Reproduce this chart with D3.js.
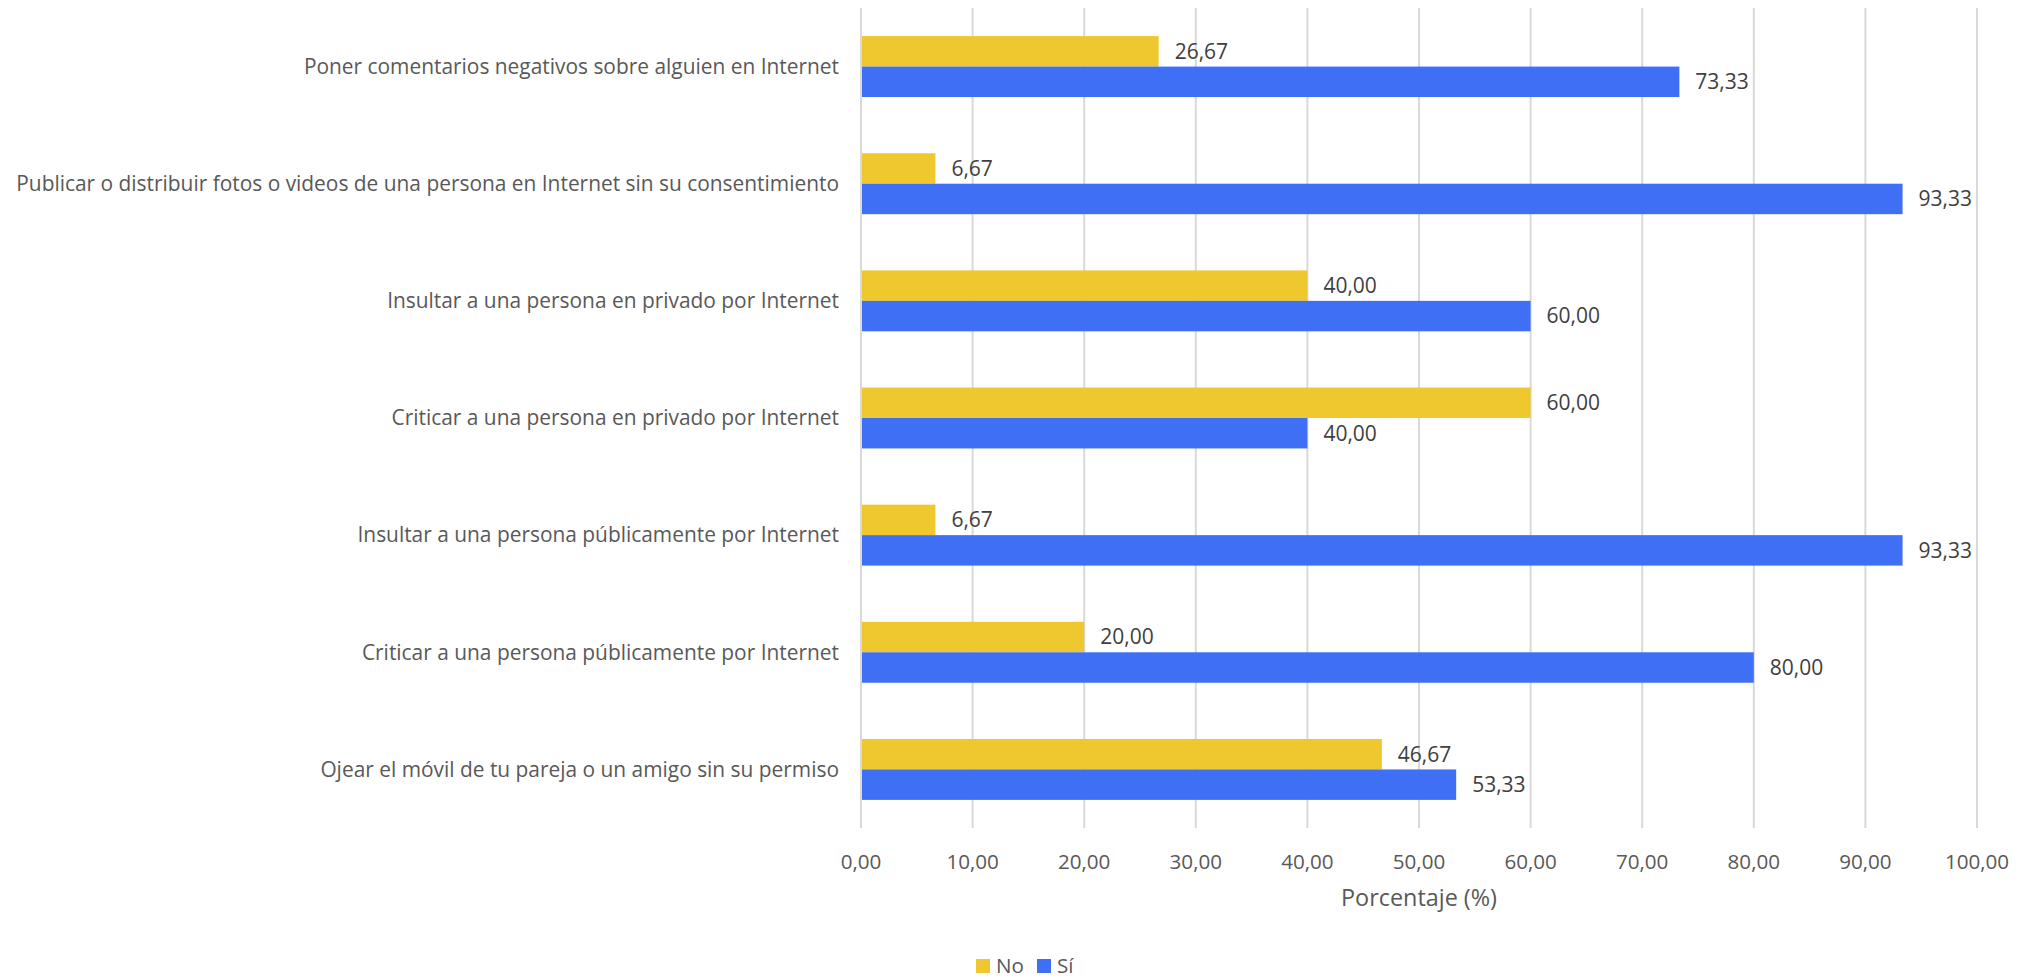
<!DOCTYPE html>
<html><head><meta charset="utf-8">
<script src="https://cdn.jsdelivr.net/npm/d3@7"></script>
<style>body{margin:0;background:#fff;} svg{display:block;} text{font-family:"Open Sans",sans-serif;}</style>
</head><body>
<svg id="c" width="2039" height="980"></svg>
<script>
const categories = [
  "Poner comentarios negativos sobre alguien en Internet",
  "Publicar o distribuir fotos o videos de una persona en Internet sin su consentimiento",
  "Insultar a una persona en privado por Internet",
  "Criticar a una persona en privado por Internet",
  "Insultar a una persona públicamente por Internet",
  "Criticar a una persona públicamente por Internet",
  "Ojear el móvil de tu pareja o un amigo sin su permiso"
];
const noValues = [26.67, 6.67, 40.00, 60.00, 6.67, 20.00, 46.67];
const siValues = [73.33, 93.33, 60.00, 40.00, 93.33, 80.00, 53.33];
const seriesNames = ["No", "Sí"];
const tickValues = [0,10,20,30,40,50,60,70,80,90,100];
const colors = ["#EFC72F", "#3F6FF5"];

(function(){
const svg = d3.select("#c");
const pL = 861, pR = 1977, pT = 8, pB = 828;
const x = d3.scaleLinear().domain([0,100]).range([pL,pR]);
const y = d3.scaleBand().domain(categories).range([pT,pB]).padding(0);
const barH = y.bandwidth()*0.26;
const fmt = v => d3.format(".2f")(v).replace(".", ",");

svg.append("g").selectAll("line").data(tickValues).join("line")
  .attr("x1", d=>x(d)).attr("x2", d=>x(d)).attr("y1", pT).attr("y2", pB)
  .attr("stroke", "#D9D9D9").attr("stroke-width", 2);

const series = [noValues, siValues];
series.forEach((vals, si) => {
  const g = svg.append("g");
  g.selectAll("rect").data(categories).join("rect")
    .attr("x", x(0)+1)
    .attr("y", (c)=> y(c) + y.bandwidth()/2 - barH + si*barH)
    .attr("width", (c,i)=> x(vals[i]) - x(0) - 1)
    .attr("height", barH)
    .attr("fill", colors[si]);
  g.selectAll("text").data(categories).join("text")
    .attr("x", (c,i)=> x(vals[i]) + 16)
    .attr("y", (c)=> y(c) + y.bandwidth()/2 - barH + si*barH + barH/2)
    .attr("dy", "0.35em")
    .attr("font-size", 21).attr("fill", "#404040")
    .text((c,i)=> fmt(vals[i]));
});

svg.append("g").selectAll("text").data(categories).join("text")
  .attr("x", 839).attr("y", c=> y(c)+y.bandwidth()/2)
  .attr("dy","0.35em").attr("text-anchor","end")
  .attr("font-size", 20.9).attr("fill","#595959")
  .text(d=>d);

svg.append("g").selectAll("text").data(tickValues).join("text")
  .attr("x", d=>x(d)).attr("y", 862).attr("dy","0.35em")
  .attr("text-anchor","middle").attr("font-size", 20.6).attr("fill","#595959")
  .text(d=>fmt(d));

svg.append("text").attr("x", (pL+pR)/2).attr("y", 906)
  .attr("text-anchor","middle").attr("font-size", 23.4).attr("fill","#595959")
  .text("Porcentaje (%)");

const leg = svg.append("g");
const legX = [976, 1037];
seriesNames.forEach((n,i)=>{
  leg.append("rect").attr("x", legX[i]).attr("y", 959).attr("width", 14).attr("height", 14).attr("fill", colors[i]);
  leg.append("text").attr("x", legX[i]+20).attr("y", 973)
    .attr("font-size", 20.6).attr("fill","#595959").text(n);
});
})();
</script>
</body></html>
